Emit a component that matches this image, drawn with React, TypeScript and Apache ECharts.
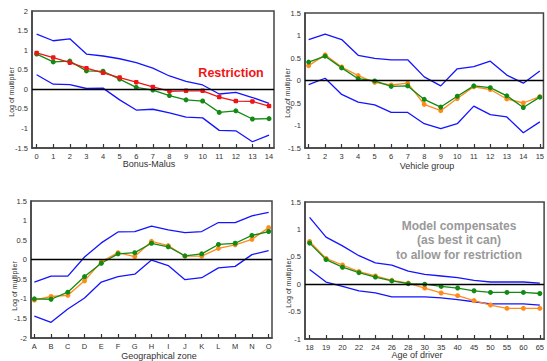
import React, { useEffect, useRef } from "react";
import * as echarts from "echarts";

// Panel 1: Bonus-Malus
const bmLabels = ["0", "1", "2", "3", "4", "5", "6", "7", "8", "9", "10", "11", "12", "13", "14"];
const bmUpper = [1.41, 1.24, 1.29, 0.9, 0.85, 0.78, 0.68, 0.54, 0.34, 0.2, 0.11, -0.12, -0.08, -0.21, -0.36];
const bmLower = [0.37, 0.13, 0.12, 0.02, 0.03, -0.27, -0.53, -0.51, -0.6, -0.71, -0.73, -1.05, -1.06, -1.34, -1.17];
const bmRestricted = [0.93, 0.81, 0.68, 0.54, 0.42, 0.3, 0.18, 0.06, -0.05, -0.04, -0.04, -0.2, -0.3, -0.31, -0.43];
const bmFitted = [0.9, 0.7, 0.72, 0.47, 0.46, 0.26, 0.05, -0.02, -0.16, -0.27, -0.3, -0.59, -0.55, -0.76, -0.75];

// Panel 2: Vehicle group
const vgLabels = ["1", "2", "3", "4", "5", "6", "7", "8", "9", "10", "11", "12", "13", "14", "15"];
const vgUpper = [0.91, 1.03, 0.91, 0.56, 0.49, 0.46, 0.46, 0.08, -0.12, 0.26, 0.31, 0.43, 0.12, -0.06, 0.21];
const vgLower = [-0.09, 0.05, -0.31, -0.48, -0.54, -0.71, -0.71, -0.96, -1.07, -0.96, -0.57, -0.76, -0.81, -1.16, -0.92];
const vgGreen = [0.41, 0.54, 0.28, 0.04, -0.01, -0.13, -0.12, -0.42, -0.59, -0.35, -0.12, -0.16, -0.34, -0.6, -0.37];
const vgOrange = [0.33, 0.57, 0.3, 0.11, -0.04, -0.1, -0.06, -0.53, -0.67, -0.4, -0.14, -0.2, -0.41, -0.5, -0.36];

// Panel 3: Geographical zone
const gzLabels = ["A", "B", "C", "D", "E", "F", "G", "H", "I", "J", "K", "L", "M", "N", "O"];
const gzUpper = [-0.57, -0.42, -0.42, 0.07, 0.43, 0.71, 0.72, 0.86, 0.76, 0.69, 0.72, 0.95, 0.95, 1.12, 1.21];
const gzLower = [-1.44, -1.6, -1.26, -0.98, -0.57, -0.43, -0.37, -0.01, -0.15, -0.51, -0.46, -0.21, -0.17, 0.13, 0.23];
const gzGreen = [-1.0, -1.01, -0.83, -0.43, -0.09, 0.15, 0.18, 0.42, 0.33, 0.1, 0.15, 0.39, 0.42, 0.62, 0.72];
const gzOrange = [-1.03, -0.94, -0.91, -0.54, -0.05, 0.18, 0.08, 0.47, 0.36, 0.09, 0.09, 0.29, 0.38, 0.52, 0.82];

// Panel 4: Age of driver
const agLabels = ["18", "19", "20", "22", "24", "26", "28", "30", "35", "40", "45", "50", "55", "60", "65"];
const agUpper = [1.22, 0.86, 0.7, 0.52, 0.39, 0.35, 0.24, 0.18, 0.15, 0.12, 0.07, 0.04, 0.04, 0.04, 0.02];
const agLower = [0.27, 0.04, -0.04, -0.12, -0.16, -0.23, -0.23, -0.23, -0.25, -0.28, -0.32, -0.36, -0.36, -0.36, -0.38];
const agGreen = [0.75, 0.45, 0.31, 0.21, 0.13, 0.06, 0.01, 0.0, -0.04, -0.07, -0.12, -0.15, -0.15, -0.15, -0.17];
const agOrange = [0.78, 0.47, 0.35, 0.23, 0.15, 0.07, 0.02, -0.07, -0.16, -0.21, -0.3, -0.38, -0.44, -0.44, -0.44];

const FONT = "'Liberation Sans', Arial, sans-serif";
const BLUE = "#1414ff";
const GREEN = "#138a13";
const RED = "#f01414";
const ORANGE = "#ff8c1a";

const pairs = (vals: number[]) => vals.map((v, i) => [i, v]);

export default function App() {
  const ref = useRef<HTMLDivElement>(null);
  useEffect(() => {
    if (!ref.current) return;
    const chart = echarts.init(ref.current, undefined, { renderer: "svg" });

    const grids = [
      { left: 32, top: 11, width: 242, height: 137 },
      { left: 305, top: 13, width: 240, height: 135 },
      { left: 31, top: 201, width: 241, height: 137 },
      { left: 305, top: 202, width: 240, height: 137 },
    ];
    const xRanges = [
      [-0.28, 14.3],
      [-0.22, 14.22],
      [-0.2, 14.2],
      [-0.28, 14.26],
    ];
    const yRanges = [
      [-1.5, 2],
      [-1.5, 1.5],
      [-2, 1.5],
      [-1, 1.5],
    ];
    const labelSets = [bmLabels, vgLabels, gzLabels, agLabels];
    const idx = bmLabels.map((_, i) => i);

    const xAxis = labelSets.map((labels, g) => ({
      type: "value",
      gridIndex: g,
      min: xRanges[g][0],
      max: xRanges[g][1],
      axisLine: { onZero: false, lineStyle: { color: "#444", width: 1.5 } },
      axisTick: { show: true, inside: true, length: 4, customValues: idx, lineStyle: { color: "#333", width: 1.2 } },
      axisLabel: {
        customValues: idx,
        formatter: (v: number) => labels[Math.round(v)] ?? "",
        fontSize: 7.5,
        color: "#333",
        margin: 4,
        fontFamily: FONT,
      },
      splitLine: { show: false },
    }));

    const yAxis = yRanges.map((r, g) => ({
      type: "value",
      gridIndex: g,
      min: r[0],
      max: r[1],
      interval: 0.5,
      axisLine: { show: true, onZero: false, lineStyle: { color: "#444", width: 1.5 } },
      axisTick: { show: false },
      axisLabel: { fontSize: 7.5, color: "#333", margin: 4, fontFamily: FONT },
      splitLine: { show: false },
    }));

    const line = (g: number, data: number[], color: string, symbol = "none", size = 5) => ({
      type: "line",
      xAxisIndex: g,
      yAxisIndex: g,
      data: pairs(data),
      symbol,
      symbolSize: size,
      showSymbol: symbol !== "none",
      lineStyle: { color, width: 1.3 },
      itemStyle: { color },
      z: symbol === "none" ? 2 : 3,
    });

    const zeroLine = (g: number) => ({
      type: "line",
      xAxisIndex: g,
      yAxisIndex: g,
      data: [],
      markLine: {
        silent: true,
        symbol: "none",
        label: { show: false },
        lineStyle: { color: "#000", width: 1.3, type: "solid" },
        data: [{ yAxis: 0 }],
      },
    });

    const series = [
      zeroLine(0),
      line(0, bmUpper, BLUE),
      line(0, bmLower, BLUE),
      line(0, bmFitted, GREEN, "circle"),
      line(0, bmRestricted, RED, "roundRect", 4.5),
      zeroLine(1),
      line(1, vgUpper, BLUE),
      line(1, vgLower, BLUE),
      line(1, vgOrange, ORANGE, "circle"),
      line(1, vgGreen, GREEN, "circle"),
      zeroLine(2),
      line(2, gzUpper, BLUE),
      line(2, gzLower, BLUE),
      line(2, gzOrange, ORANGE, "circle"),
      line(2, gzGreen, GREEN, "circle"),
      zeroLine(3),
      line(3, agUpper, BLUE),
      line(3, agLower, BLUE),
      line(3, agOrange, ORANGE, "circle"),
      line(3, agGreen, GREEN, "circle"),
    ];

    const yName = (x: number, y: number) => ({
      type: "text",
      x,
      y,
      rotation: Math.PI / 2,
      style: {
        text: "Log of multiplier",
        fontSize: 7,
        fill: "#333",
        fontFamily: FONT,
        align: "center",
        verticalAlign: "middle",
      },
    });
    const xName = (x: number, y: number, text: string) => ({
      type: "text",
      x,
      y,
      style: { text, fontSize: 9, fill: "#333", fontFamily: FONT, align: "center", verticalAlign: "middle" },
    });

    chart.setOption({
      animation: false,
      backgroundColor: "#fff",
      grid: grids.map((g) => ({ ...g, show: true, borderColor: "#444", borderWidth: 1.5, containLabel: false })),
      xAxis,
      yAxis,
      series,
      graphic: [
        yName(11, 92),
        yName(287, 93),
        yName(14, 286),
        yName(288, 283),
        xName(149, 164, "Bonus-Malus"),
        xName(427, 166, "Vehicle group"),
        xName(159, 356, "Geographical zone"),
        xName(417, 355, "Age of driver"),
        {
          type: "text",
          x: 231,
          y: 73,
          style: {
            text: "Restriction",
            fontSize: 12.5,
            fontWeight: "bold",
            fill: RED,
            fontFamily: FONT,
            align: "center",
            verticalAlign: "middle",
          },
        },
        {
          type: "text",
          x: 459,
          y: 240,
          style: {
            text: "Model compensates\n(as best it can)\nto allow for restriction",
            fontSize: 12,
            lineHeight: 14.5,
            fontWeight: "bold",
            fill: "#999",
            fontFamily: FONT,
            align: "center",
            verticalAlign: "middle",
          },
        },
      ],
    });
    return () => chart.dispose();
  }, []);

  return <div ref={ref} style={{ position: "fixed", left: 0, top: 0, width: 547, height: 361 }} />;
}
